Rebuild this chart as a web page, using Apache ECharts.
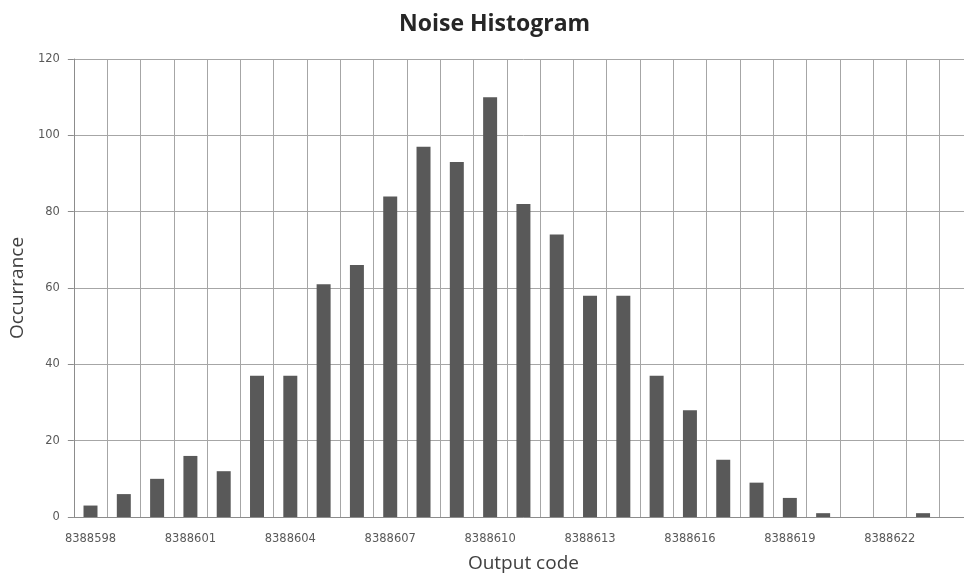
<!DOCTYPE html>
<html>
<head>
<meta charset="utf-8">
<script src="https://cdn.jsdelivr.net/npm/echarts@6/dist/echarts.min.js"></script>
<style>html,body{margin:0;padding:0;background:#fff;overflow:hidden}#c{width:973px;height:578px}</style>
</head>
<body>
<div id="c"></div>
<script>
var categories = ['8388598','8388599','8388600','8388601','8388602','8388603','8388604','8388605','8388606','8388607','8388608','8388609','8388610','8388611','8388612','8388613','8388614','8388615','8388616','8388617','8388618','8388619','8388620','8388621','8388622','8388623','8388624'];
var occurrence = [3,6,10,16,12,37,37,61,66,84,97,93,110,82,74,58,58,37,28,15,9,5,1,0,0,1,null];
var yTicks = {min:0, max:120, interval:20};

var chart = echarts.init(document.getElementById('c'));
chart.setOption({
  animation:false,
  title:{text:'Noise Histogram', left:394, top:8,
    textStyle:{fontFamily:'Open Sans', fontWeight:'bold', fontSize:23, color:'#262626'}},
  grid:{left:73, top:59, bottom:59, right:0, containLabel:false},
  xAxis:{type:'category', data:categories, boundaryGap:true,
    name:'Output code', nameLocation:'middle', nameGap:37,
    nameTextStyle:{fontFamily:'Open Sans', fontSize:19, color:'#404040'},
    axisLine:{lineStyle:{color:'#8c8c8c', width:1}},
    axisTick:{interval:0, length:4, lineStyle:{color:'#8c8c8c'}},
    axisLabel:{interval:2, margin:16, fontFamily:'DejaVu Sans', fontSize:11.5, color:'#595959'},
    splitLine:{show:true, interval:0, lineStyle:{color:'#a6a6a6', width:1}}
  },
  yAxis:{type:'value', min:yTicks.min, max:yTicks.max, interval:yTicks.interval,
    name:'Occurrance', nameLocation:'middle', nameGap:45,
    nameTextStyle:{fontFamily:'Open Sans', fontSize:19, color:'#404040'},
    axisLine:{show:true, lineStyle:{color:'#8c8c8c'}},
    axisTick:{show:true, length:6, lineStyle:{color:'#8c8c8c'}},
    axisLabel:{margin:14, fontFamily:'DejaVu Sans', fontSize:11.5, color:'#595959'},
    splitLine:{show:true, lineStyle:{color:'#a6a6a6', width:1}}
  },
  series:[{type:'bar', data:occurrence, barWidth:'42%',
    itemStyle:{color:'#595959'}}]
});
</script>
</body>
</html>
